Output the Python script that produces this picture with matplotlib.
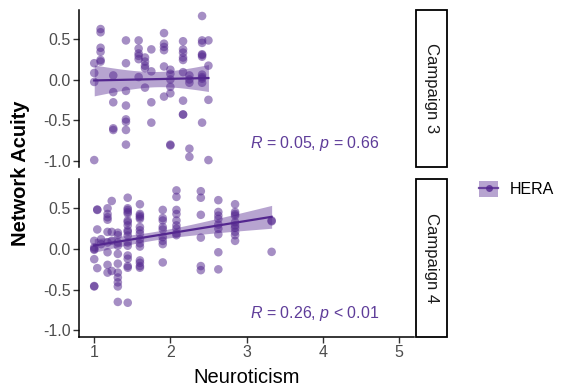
import numpy as np
import matplotlib
matplotlib.use('Agg')
import matplotlib.pyplot as plt
from matplotlib.patches import Patch, Rectangle
from matplotlib.lines import Line2D

plt.rcParams['font.family'] = ['Liberation Sans', 'DejaVu Sans']
plt.rcParams['mathtext.fontset'] = 'custom'
plt.rcParams['mathtext.rm'] = 'Liberation Sans'
plt.rcParams['mathtext.it'] = 'Liberation Sans:italic'

# Campaign 3: neuroticism levels and network acuity values per level
c3_levels = [1.0, 13/12, 1.25, 17/12, 19/12, 20/12, 1.75, 23/12, 2.0, 26/12, 2.25, 29/12, 2.5]
c3_values = [
    [0.20, 0.08, -0.03, -0.99],
    [0.62, 0.58, 0.39, 0.34, 0.24, 0.22],
    [0.05, -0.155, -0.28, -0.60, -0.62],
    [0.48, 0.20, -0.14, -0.32, -0.49, -0.52, -0.62, -0.80],
    [0.48, 0.38, 0.32, 0.29, 0.25, 0.03],
    [0.27, 0.22, 0.17, 0.14, -0.10],
    [0.37, 0.10, -0.28, -0.53],
    [0.57, 0.44, 0.40, 0.36, 0.16, -0.21],
    [0.12, 0.07, 0.0, -0.09, -0.17, -0.80, -0.81],
    [0.47, 0.37, 0.33, 0.27, 0.24, 0.09, -0.26, -0.43, -0.43],
    [0.05, 0.0, -0.04, -0.85, -0.95],
    [0.78, 0.48, 0.45, 0.31, 0.30, 0.28, 0.06, 0.03, 0.01, -0.04, -0.53],
    [0.48, 0.17, -0.25, -0.99],
]

# Campaign 4
c4_levels = [1.0, 1.04, 1.09, 1.175, 1.23, 1.31, 1.44, 1.60, 1.90, 2.08, 2.40, 2.63, 2.85, 3.33]
c4_values = [
    [0.10, 0.02, 0.0, -0.01, -0.125, -0.455, -0.46],
    [0.485, 0.48, 0.24, -0.235],
    [0.12, 0.06],
    [0.50, 0.43, 0.39, 0.36, 0.21, 0.08, -0.04, -0.195, -0.29],
    [0.59, 0.21, 0.10, -0.27],
    [0.20, 0.17, 0.08, 0.04, -0.06, -0.18, -0.29, -0.35, -0.41, -0.46, -0.65],
    [0.63, 0.50, 0.48, 0.455, 0.435, 0.35, 0.33, 0.29, 0.23, 0.21, 0.165, 0.08, 0.04,
     -0.08, -0.12, -0.21, -0.23, -0.66],
    [0.55, 0.43, 0.41, 0.39, 0.37, 0.27, 0.23, 0.19, 0.12, 0.07, 0.03, -0.14, -0.17, -0.21, -0.23],
    [0.48, 0.38, 0.35, 0.27, 0.24, 0.145, 0.10, 0.06, -0.165],
    [0.72, 0.64, 0.48, 0.43, 0.35, 0.29, 0.25, 0.19, 0.17],
    [0.71, 0.63, 0.42, 0.14, -0.21, -0.26],
    [0.60, 0.455, 0.41, 0.37, 0.30, 0.25, 0.18, -0.04, -0.25],
    [0.55, 0.455, 0.43, 0.41, 0.33, 0.29, 0.26, 0.21, 0.17, 0.10],
    [0.35, 0.34, -0.035],
]

panels = ['Campaign 3', 'Campaign 4']
stat_labels = [r'$\it{R}$ = 0.05, $\it{p}$ = 0.66', r'$\it{R}$ = 0.26, $\it{p}$ < 0.01']
group = 'HERA'

purple = '#54278F'
txt_purple = '#5E3C99'


def expand(levels, values):
    xs, ys = [], []
    for lv, vals in zip(levels, values):
        xs += [lv] * len(vals)
        ys += vals
    return np.array(xs), np.array(ys)


def lm_band(x, y, t=1.98):
    b, a = np.polyfit(x, y, 1)
    xg = np.linspace(x.min(), x.max(), 80)
    yg = a + b * xg
    res = y - (a + b * x)
    n = len(x)
    s = np.sqrt(np.sum(res ** 2) / (n - 2))
    se = s * np.sqrt(1 / n + (xg - x.mean()) ** 2 / np.sum((x - x.mean()) ** 2))
    return xg, yg, yg - t * se, yg + t * se


W, H = 563, 389
fig = plt.figure(figsize=(W / 100, H / 100), dpi=100)

left, right = 79 / W, 414 / W
tops = [9.5, 179]
ph = 157.5

data = [expand(c3_levels, c3_values), expand(c4_levels, c4_values)]
axes = []
for i, (x, y) in enumerate(data):
    ax = fig.add_axes([left, 1 - (tops[i] + ph) / H, right - left, ph / H])
    axes.append(ax)
    ax.scatter(x, y, s=38, color=purple, alpha=0.52, edgecolors='none', zorder=2)
    xg, yg, lo, hi = lm_band(x, y)
    ax.fill_between(xg, lo, hi, color=purple, alpha=0.42, linewidth=0, zorder=1)
    ax.plot(xg, yg, color=purple, lw=1.6, zorder=3)
    ax.text(3.9, -0.79, stat_labels[i], color=txt_purple, fontsize=11.5,
            ha='center', va='center')
    ax.set_xlim(0.8, 5.2)
    ax.set_ylim(-1.075, 0.86)
    ax.set_yticks([-1.0, -0.5, 0.0, 0.5])
    ax.set_yticklabels(['-1.0', '-0.5', '0.0', '0.5'])
    ax.set_xticks([1, 2, 3, 4, 5])
    for sp in ['top', 'right']:
        ax.spines[sp].set_visible(False)
    ax.spines['left'].set_linewidth(1.1)
    ax.spines['bottom'].set_linewidth(1.1)
    ax.tick_params(colors='#333333', labelcolor='#4D4D4D', labelsize=11.5,
                   length=4, width=1.0, pad=2)
    if i == 0:
        ax.spines['bottom'].set_visible(False)
        ax.tick_params(axis='x', bottom=False, labelbottom=False)

    # facet strip on the right
    sx0 = 415.5 / W
    sw = 31 / W
    strip = Rectangle((sx0, 1 - (tops[i] + ph) / H), sw, ph / H, transform=fig.transFigure,
                      facecolor='white', edgecolor='black', lw=1.3)
    fig.patches.append(strip)
    fig.text(sx0 + sw / 2, 1 - (tops[i] + ph / 2) / H, panels[i], rotation=-90,
             ha='center', va='center', fontsize=12, color='#1A1A1A')

axes[1].set_xlabel('Neuroticism', fontsize=14.5, labelpad=6)
fig.text(0.037, 1 - 173 / H, 'Network Acuity', rotation=90, ha='center', va='center',
         fontsize=14.5, fontweight='bold')

handle = (Patch(facecolor=purple, alpha=0.42, edgecolor='none'),
          Line2D([], [], color=purple, lw=1.6, marker='o', markersize=5,
                 markeredgecolor='none', alpha=0.8))
fig.legend([handle], [group], loc='center left', bbox_to_anchor=(479 / W, 1 - 189 / H),
           frameon=False, fontsize=11.5, handlelength=1.2, handleheight=1.2,
           handletextpad=0.7, borderpad=0, borderaxespad=0)

fig.savefig('out.png', dpi=100)
